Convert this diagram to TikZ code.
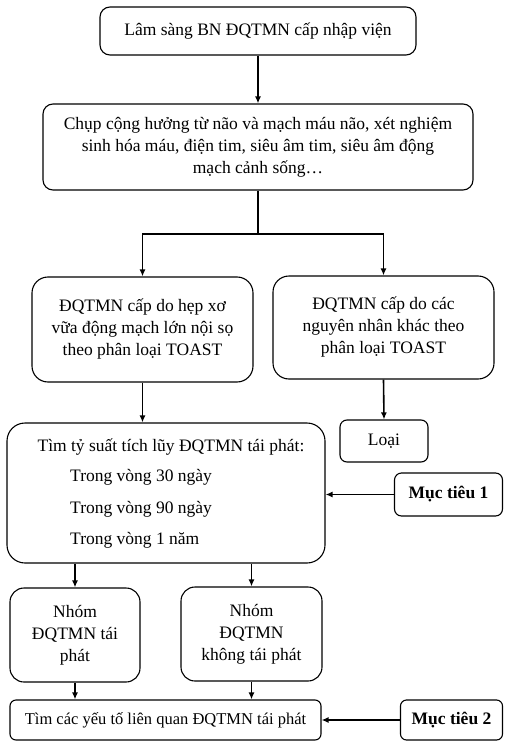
\documentclass[tikz,border=0pt]{standalone}
\usepackage{fontspec}
\setmainfont{Liberation Serif}
\usetikzlibrary{arrows.meta}
\begin{document}
\begin{tikzpicture}[x=1pt,y=-1pt,
  box/.style={draw,line width=1.1pt,rounded corners=10pt,inner sep=0pt,align=center,
    font=\fontsize{17.5}{22}\selectfont},
  arr/.style={line width=1.6pt,-{Latex[length=7pt,width=6pt]}}]
\useasboundingbox (0,0) rectangle (504,741);
\node[box,minimum width=316,minimum height=48] (lam) at (258,31) {Lâm sàng BN ĐQTMN cấp nhập viện};
\node[box,minimum width=430,minimum height=86] (chup) at (258,147)
  {Chụp cộng hưởng từ não và mạch máu não, xét nghiệm\\ sinh hóa máu, điện tim, siêu âm tim, siêu âm động\\ mạch cảnh sống…};
\node[box,minimum width=221,minimum height=105,rounded corners=16pt] (hep) at (142.5,329.5)
  {ĐQTMN cấp do hẹp xơ\\ vữa động mạch lớn nội sọ\\ theo phân loại TOAST};
\node[box,minimum width=221,minimum height=103,rounded corners=16pt] (khac) at (383.5,327.5)
  {ĐQTMN cấp do các\\ nguyên nhân khác theo\\ phân loại TOAST};
\node[box,minimum width=88,minimum height=42,rounded corners=7pt] (loai) at (384,441) {Loại};
\node[box,minimum width=318,minimum height=140,rounded corners=18pt] (tyle) at (166,493) {};
\node[font=\fontsize{17.5}{22}\selectfont] (tyle1) at (171,447) {Tìm tỷ suất tích lũy ĐQTMN tái phát:};
\node[font=\fontsize{17.5}{22}\selectfont,anchor=west,inner sep=0pt] (tyle2) at (70,477) {Trong vòng 30 ngày};
\node[font=\fontsize{17.5}{22}\selectfont,anchor=west,inner sep=0pt] (tyle3) at (70,509) {Trong vòng 90 ngày};
\node[font=\fontsize{17.5}{22}\selectfont,anchor=west,inner sep=0pt] (tyle4) at (70,540) {Trong vòng 1 năm};
\node[box,minimum width=108,minimum height=43,rounded corners=7pt,font=\fontsize{17.5}{22}\selectfont\bfseries] (mt1) at (448.5,494.5) {Mục tiêu 1};
\node[box,minimum width=130,minimum height=94,rounded corners=14pt] (taiphat) at (75,635) {Nhóm\\ ĐQTMN tái\\ phát};
\node[box,minimum width=141,minimum height=94,rounded corners=14pt] (khong) at (251.5,634) {Nhóm\\ ĐQTMN\\ không tái phát};
\node[box,minimum width=311,minimum height=40,rounded corners=6pt,font=\fontsize{16.5}{20}\selectfont] (yeuto) at (165.5,720) {Tìm các yếu tố liên quan ĐQTMN tái phát};
\node[box,minimum width=102,minimum height=40,rounded corners=6pt,font=\fontsize{17.5}{22}\selectfont\bfseries] (mt2) at (451.5,720) {Mục tiêu 2};
\coordinate (split) at (258,234);
\draw[arr] (lam) -- (chup);
\draw[line width=1.6pt] (chup) -- (split);
\draw[arr] (split) -| (hep.north);
\draw[arr] (split) -| (khac.north);
\draw[arr] (hep.south) -- (hep.south |- tyle.north);
\draw[arr] (khac.south) -- (loai.north);
\draw[arr] (mt1.west) -- (mt1.west -| tyle.east);
\draw[arr] (taiphat.north |- tyle.south) -- (taiphat.north);
\draw[arr] (khong.north |- tyle.south) -- (khong.north);
\draw[arr] (taiphat.south) -- (taiphat.south |- yeuto.north);
\draw[arr] (khong.south) -- (khong.south |- yeuto.north);
\draw[arr] (mt2.west) -- (yeuto.east);
\end{tikzpicture}
\end{document}
